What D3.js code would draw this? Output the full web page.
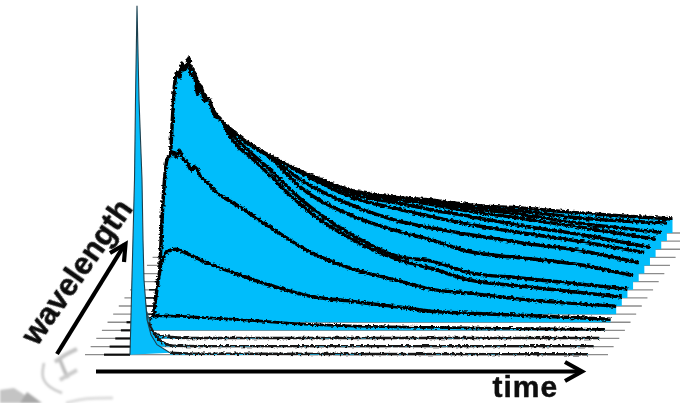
<!DOCTYPE html>
<html><head><meta charset="utf-8">
<script src="https://cdn.jsdelivr.net/npm/d3@7"></script>
<style>html,body{margin:0;padding:0;background:#fff}svg{display:block}text{font-family:"Liberation Sans",Arial,sans-serif;font-weight:700;fill:#0a0a0a;stroke:#0a0a0a;stroke-width:.4}</style>
</head><body><div id="c"></div>
<script>
const tMax = 458;
const xAxisLabel = "time";
const yAxisLabel = "wavelength";
const spike = [[0,0],[4.5,175],[5.5,255],[7,349],[9,255],[12,175],[13,115],[14,75],[17,35],[21,20],[27,10],[40,2]];
const trace0 = [[40,2],[70,1],[458,0.5]];
const trace1 = [[0,0],[7,66],[12.5,24],[21.5,9],[37.5,1],[65,0.5],[458,0.5]];
const trace2 = [[0,0],[5,28],[12,6],[24,2],[49,0.5],[458,0.5]];
const trace3 = [[0,0],[3,13],[13,14.5],[53,13],[103,10],[153,6.5],[203,4.5],[283,3],[353,2],[458,1]];
const trace4 = [[0,0],[3,23],[8,55],[14,70],[23,73],[38,67],[58,58],[88,47],[121,36],[158,26],[198,21],[248,15],[278,11],[318,9],[368,7],[458,3]];
const trace5 = [[0,0],[5,115],[9,155],[12,158],[15,162],[18,157],[21,164],[25,155],[29,152],[33,144],[37,148],[42,138],[48,133],[55,125],[82,107],[115,85],[152,62],[192,46],[242,33],[272,25],[312,21],[362,15],[458,8]];
const trace6 = [[0,0],[7,156],[11,223],[13,234],[16,229],[18,243],[20,236],[23,240],[25,248],[27,232],[31,228],[34,212],[37,220],[41,205],[45,207],[50,192],[59,184],[65,172],[76,158],[90,146],[109,128],[126,111],[146,94],[186,68],[236,46],[266,38],[306,26],[356,20],[458,9]];
const trace7 = [[0,0],[5,187],[8,222],[19,233],[34,201],[54,174],[71,155],[104,125],[131,99],[181,64],[231,41],[261,37],[301,25],[351,20],[458,9]];
const trace8 = [[0,0],[3,160],[9,210],[15,222],[28,193],[48,167],[65,152],[98,130],[125,103],[175,75],[225,58],[255,50],[295,38],[345,32],[405,25],[458,14]];
const trace9 = [[0,0],[4,152],[10,202],[23,182],[43,158],[60,144],[93,122],[120,102],[170,77],[220,60],[250,54],[290,47],[340,39],[400,31],[458,19]];
const trace10 = [[0,0],[4,144],[10,184],[37,148],[54,135],[87,116],[124,96],[164,77],[214,64],[244,57],[284,49],[334,41],[394,32],[458,21]];
const trace11 = [[0,0],[4,136],[11,161],[31,136],[48,121],[81,106],[118,89],[158,72],[208,62],[238,56],[278,49],[328,40],[388,31],[458,18]];
const trace12 = [[0,0],[4,128],[13,143],[43,108],[76,98],[113,81],[153,66],[203,57],[233,53],[273,46],[323,39],[383,30],[458,18]];
const trace13 = [[0,0],[4,115],[12,125],[37,95],[70,88],[107,74],[147,59],[197,51],[227,47],[267,41],[317,35],[377,26],[458,17]];
const trace14 = [[0,0],[4,101],[14,111],[32,81],[65,76],[102,64],[142,50],[192,43],[262,34],[312,30],[372,23],[458,18]];
const trace15 = [[0,0],[4,88],[14,95],[26,68],[59,65],[96,55],[136,41],[186,35],[216,33],[256,28],[306,25],[366,20],[458,14]];
const traces = [trace0,trace1,trace2,trace3,trace4,trace5,trace6,trace7,trace8,trace9,trace10,trace11,trace12,trace13,trace14,trace15];

const W=680,H=403;
const svg=d3.select("#c").append("svg").attr("width",W).attr("height",H).attr("viewBox",[0,0,W,H]);
const defs=svg.append("defs");
const full=s=>s.attr("filterUnits","userSpaceOnUse").attr("x",0).attr("y",0).attr("width",W).attr("height",H);
const noise=full(defs.append("filter").attr("id","noise"));
noise.append("feTurbulence").attr("type","fractalNoise").attr("baseFrequency","0.35 0.5").attr("numOctaves",2).attr("seed",4).attr("result","n");
noise.append("feDisplacementMap").attr("in","SourceGraphic").attr("in2","n").attr("scale",4).attr("xChannelSelector","R").attr("yChannelSelector","G").attr("result","d");
noise.append("feGaussianBlur").attr("in","d").attr("stdDeviation",0.45);
const soft=full(defs.append("filter").attr("id","soft"));
soft.append("feGaussianBlur").attr("stdDeviation",0.45);
const softer=full(defs.append("filter").attr("id","softer"));
softer.append("feGaussianBlur").attr("stdDeviation",1);

const x=d3.scaleLinear().domain([0,tMax]).range([130,588]);
const y=d3.scaleLinear().domain([0,350]).range([354.7,4.7]);
const idx=d3.range(traces.length);
const dx=d3.scaleLinear().domain([0,15]).range([0,84.5]);
const dy=d3.scaleLinear().domain([0,15]).range([0,-121.7]);
const blue="#06bdfb";

// faint stamp in the lower left
const stampCurve=d3.line().curve(d3.curveBasis);
const stamp=svg.append("g").attr("filter","url(#softer)").attr("fill","none");
stamp.append("path").attr("d",stampCurve([[44,363],[41,378],[50,388],[62,393]])).attr("stroke","#c8c8c8").attr("stroke-width",2.5);
stamp.append("path").attr("d",stampCurve([[55,362],[66,354],[77,349]])).attr("stroke","#c4c4c4").attr("stroke-width",4);
stamp.append("path").attr("d",stampCurve([[60,360],[64,370],[68,378]])).attr("stroke","#bbb").attr("stroke-width",3.5);
stamp.append("path").attr("d",stampCurve([[60,380],[68,375],[77,370]])).attr("stroke","#ccc").attr("stroke-width",4);
stamp.append("path").attr("d",d3.line()([[0,390],[14,388],[37,403],[0,403]])).attr("fill","#c4c4c4");
stamp.append("path").attr("d",d3.line()([[20,403],[27,392],[42,403]])).attr("fill","#a8a8a8");
stamp.append("path").attr("d",stampCurve([[66,403],[85,398],[113,398]])).attr("stroke","#ddd").attr("stroke-width",3);

const area=d3.area().curve(d3.curveMonotoneX).x(d=>x(d[0])).y0(y(0)).y1(d=>y(d[1]));
const line=d3.line().curve(d3.curveMonotoneX).x(d=>x(d[0])).y(d=>y(d[1]));
const straight=d3.line().x(d=>x(d[0])).y(d=>y(d[1]));
const g=svg.append("g");
// back to front
idx.slice().reverse().forEach(i=>{
  const tr=g.append("g").attr("transform",`translate(${dx(i)},${dy(i)})`);
  tr.append("line").attr("x1",x(-45)).attr("x2",x(tMax+20)).attr("y1",y(0)).attr("y2",y(0)).attr("stroke","#8c8c8c").attr("stroke-width",1.3).attr("filter","url(#soft)");
  tr.append("path").attr("d",straight([[-26,0],[0,0]])).attr("fill","none").attr("stroke","#111").attr("stroke-width",i<5?2.2:1.5).attr("filter","url(#soft)");
  if(i===0) tr.append("path").attr("d",straight(spike)+"Z").attr("fill",blue);
  tr.append("path").attr("d",area(traces[i])).attr("fill",blue).attr("filter","url(#soft)");
  tr.append("path").attr("d",line(traces[i].filter(d=>i>2||d[0]>=(i===0?40:12)))).attr("fill","none")
    .attr("stroke",i<3?"#141414":"#000").attr("stroke-width",i<3?2.4:i===3?2.7:3.5).attr("filter","url(#noise)");
  if(i===1||i===2) tr.append("path").attr("d",straight(traces[i].filter(d=>d[0]<=12.5))).attr("fill","none").attr("stroke","#333").attr("stroke-width",0.8);
  if(i===0) tr.append("path").attr("d",straight(spike)).attr("fill","none").attr("stroke","#1d3f4d").attr("stroke-width",1.1).attr("filter","url(#soft)");
});

const arrows=svg.append("g").attr("fill","none").attr("stroke","#000").attr("stroke-width",4.2).attr("filter","url(#soft)");
const path=d3.line();
arrows.append("path").attr("d",path([[96,371.5],[582,371.5]]));
arrows.append("path").attr("d",path([[565,362],[582,371.5],[565,381]]));
arrows.append("path").attr("d",path([[57,354],[125,244]]));
arrows.append("path").attr("d",path([[110,253],[125.5,244],[124,262]]));

const labels=svg.append("g").attr("filter","url(#soft)");
labels.append("text").attr("x",492.5).attr("y",396.5).attr("font-size",30).attr("letter-spacing",1).text(xAxisLabel);
labels.append("text").attr("transform","translate(37,347) rotate(-55)").attr("font-size",31).text(yAxisLabel);
</script></body></html>
